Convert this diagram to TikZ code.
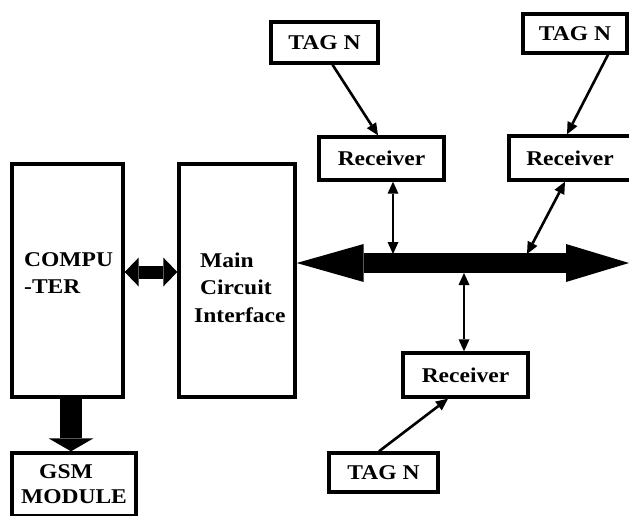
\documentclass[tikz,border=0pt]{standalone}
\usepackage{fontspec}
\setmainfont{Liberation Serif}[FakeStretch=1.12]
\usetikzlibrary{arrows.meta,calc}
\tikzset{smalltip/.tip={Triangle[length=12pt,width=11pt,line width=0pt]}}
\begin{document}
\begin{tikzpicture}[x=1pt,y=-1pt,
  box/.style={draw, line width=3.4pt, inner sep=0pt, fill=white},
  txt/.style={font=\fontsize{21}{25}\selectfont\bfseries, inner sep=0pt},
  thin/.style={line width=2.6pt, -{smalltip}},
  thinboth/.style={line width=2.6pt, {smalltip}-{smalltip}},
]
\useasboundingbox (0,0) rectangle (629,515);
\clip (0,0) rectangle (629,515);
\fill[white] (0,0) rectangle (629,515);

% boxes
\node[box, minimum width=111pt, minimum height=233pt] (comp) at (67.5,280.5) {};
\node[box, minimum width=116pt, minimum height=233pt] (main) at (237,280.5) {};
\node[box, minimum width=107pt, minimum height=41pt] (tag1) at (324.5,42.5) {};
\node[box, minimum width=125pt, minimum height=43pt] (rec1) at (381.5,158.5) {};
\node[box, minimum width=104pt, minimum height=39pt] (tag2) at (575,33.5) {};
\node[box, minimum width=122pt, minimum height=44pt] (rec2) at (570,158) {};
\node[box, minimum width=125pt, minimum height=44pt] (rec3) at (465.5,375) {};
\node[box, minimum width=109pt, minimum height=39pt] (tag3) at (383.5,472.5) {};
\node[box, minimum width=124pt, minimum height=63pt] (gsm) at (74,484.5) {};

% texts
\node[txt, align=left, anchor=west] (comptext) at (24,273.5) {COMPU\\[2pt]-TER};
\node[txt, align=left, anchor=west] (maintext) at (194,287.5) {\hspace{6pt}Main\\[2.5pt]\hspace{6pt}Circuit\\[2.5pt]Interface};
\node[txt] (tag1text) at (tag1) {TAG N};
\node[txt] (tag2text) at (tag2) {TAG N};
\node[txt] (tag3text) at (tag3) {TAG N};
\node[txt] (rec1text) at (rec1) {Receiver};
\node[txt] (rec2text) at (rec2) {Receiver};
\node[txt] (rec3text) at (rec3) {Receiver};
\node[txt, align=center] (gsmtext) at (gsm) {\hspace{-16pt}GSM\\MODULE};

% bus
\coordinate (busL) at (main.east |- 0,263);
\coordinate (busR) at (629,263);
\draw[line width=20pt, {Triangle[length=67pt,width=38pt,line width=0pt]}-{Triangle[length=63pt,width=38pt,line width=0pt]}] (busL) -- (busR);
\coordinate (b1) at (393,254);
\coordinate (b2) at (527,254);
\coordinate (b3) at (464,273);

% computer <-> main
\draw[line width=13pt, {Triangle[length=14pt,width=29pt,line width=0pt]}-{Triangle[length=14pt,width=29pt,line width=0pt]}]
  (comp.east |- 0,272) -- (main.west |- 0,272);

% computer -> gsm
\draw[line width=22pt, -{Triangle[length=13pt,width=45pt,line width=0pt]}]
  ($(comp.south)+(3.5,0)$) -- ($(gsm.north)+(-3,0)$);

% tags -> receivers
\draw[thin] ($(tag1.south)+(8,0)$) -- ($(rec1.north)+(-3.5,0)$);
\draw[thin] ($(tag2.south)+(33,0)$) -- ($(rec2.north)+(-3,0)$);
\draw[thin] ($(tag3.north)+(-4.5,0)$) -- ($(rec3.south)+(-17.5,0)$);

% receivers <-> bus
\draw[thinboth] (b1 |- rec1.south) -- (b1);
\draw[thinboth] ($(rec2.south)+(-5,0)$) -- (b2);
\draw[thinboth] (b3) -- (b3 |- rec3.north);
\end{tikzpicture}
\end{document}
